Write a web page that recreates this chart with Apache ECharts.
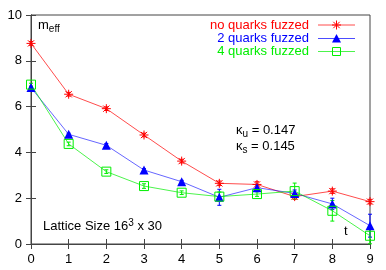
<!DOCTYPE html>
<html><head><meta charset="utf-8">
<script src="https://cdn.jsdelivr.net/npm/echarts@6/dist/echarts.min.js"></script>
<style>html,body{margin:0;padding:0;background:#fff}#c{width:386px;height:270px}</style>
</head><body><div id="c"></div>
<script>
var tValues = [0,1,2,3,4,5,6,7,8,9];
var seriesNames = ['no quarks fuzzed','2 quarks fuzzed','4 quarks fuzzed'];
var noFuzz = [8.76,6.54,5.91,4.76,3.62,2.65,2.60,2.07,2.31,1.85];
var noFuzzErr = [0.08,0.08,0.08,0.08,0.08,0.1,0.12,0.12,0.1,0.1];
var twoFuzz = [6.83,4.79,4.31,3.23,2.72,2.04,2.46,2.21,1.75,0.80];
var twoFuzzErr = [0.05,0.05,0.08,0.06,0.06,0.35,0.12,0.15,0.25,0.5];
var fourFuzz = [6.96,4.37,3.16,2.53,2.24,2.07,2.18,2.31,1.45,0.36];
var fourFuzzErr = [0.06,0.08,0.08,0.1,0.08,0.2,0.1,0.35,0.45,0.35];
var yTicks = [0,2,4,6,8,10];

var colors = ['#ff0000','#0000ff','#00ee00'];
var FONT = 'Liberation Sans, Arial, sans-serif';
var starPath = 'M0,5L10,5M5,0L5,10M1.5,1.5L8.5,8.5M8.5,1.5L1.5,8.5';

function errSeries(vals, errs, color){
  return {
    type:'custom', silent:true, z:1,
    data: tValues.map(function(t,i){return [t, vals[i]-errs[i], vals[i]+errs[i]];}),
    renderItem: function(params, api){
      var lo = api.coord([api.value(0), api.value(1)]);
      var hi = api.coord([api.value(0), api.value(2)]);
      var w = 2;
      return {type:'group', children:[
        {type:'line', shape:{x1:lo[0],y1:lo[1],x2:hi[0],y2:hi[1]}, style:{stroke:color,lineWidth:1}},
        {type:'line', shape:{x1:lo[0]-w,y1:lo[1],x2:lo[0]+w,y2:lo[1]}, style:{stroke:color,lineWidth:1}},
        {type:'line', shape:{x1:hi[0]-w,y1:hi[1],x2:hi[0]+w,y2:hi[1]}, style:{stroke:color,lineWidth:1}}
      ]};
    }
  };
}

// legend (drawn as graphic)
var legendRows = [25, 38.5, 51.5];
var legendGraphic = [];
seriesNames.forEach(function(name, i){
  var y = legendRows[i];
  legendGraphic.push({type:'text', x:309, y:y, style:{text:name, fill:colors[i], fontSize:13, fontFamily:FONT, align:'right', verticalAlign:'middle'}});
  legendGraphic.push({type:'line', shape:{x1:318,y1:y,x2:355,y2:y}, style:{stroke:colors[i], lineWidth:1, opacity:0.7}});
});
(function(){
  var cx = 336.5, cy = legendRows[0], r = 4.5, d = 3.2;
  [[cx-r,cy,cx+r,cy],[cx,cy-r,cx,cy+r],[cx-d,cy-d,cx+d,cy+d],[cx+d,cy-d,cx-d,cy+d]].forEach(function(s){
    legendGraphic.push({type:'line', shape:{x1:s[0],y1:s[1],x2:s[2],y2:s[3]}, style:{stroke:colors[0], lineWidth:1}});
  });
})();
legendGraphic.push({type:'polygon', shape:{points:[[336.5,legendRows[1]-4.5],[332,legendRows[1]+4],[341,legendRows[1]+4]]}, style:{fill:colors[1]}});
legendGraphic.push({type:'rect', shape:{x:332.5,y:legendRows[2]-4,width:8,height:8}, style:{stroke:colors[2], fill:null, lineWidth:1}});

var chart = echarts.init(document.getElementById('c'), null, {renderer:'canvas'});
var axisCommon = {
  axisLine:{show:true,lineStyle:{color:'#444',width:1}},
  axisTick:{show:true,inside:true,length:5,lineStyle:{color:'#444'}},
  splitLine:{show:false}
};
chart.setOption({
  animation:false,
  backgroundColor:'#fff',
  grid:{left:31,right:16,top:15,bottom:26,show:true,borderColor:'#444',borderWidth:1},
  xAxis:[
    Object.assign({type:'value',min:0,max:9,interval:1,
      axisLabel:{color:'#000',fontSize:13,fontFamily:FONT,margin:9}}, axisCommon),
    Object.assign({type:'value',min:0,max:9,interval:1,position:'top',axisLabel:{show:false}}, axisCommon)
  ],
  yAxis:[
    Object.assign({type:'value',min:0,max:10,interval:2,
      axisLabel:{color:'#000',fontSize:13,fontFamily:FONT,margin:9,
        formatter:function(v){return yTicks.indexOf(v)>=0?String(v):'';}}}, axisCommon),
    Object.assign({type:'value',min:0,max:10,interval:2,position:'right',axisLabel:{show:false}}, axisCommon)
  ],
  series:[
    errSeries(noFuzz,noFuzzErr,colors[0]),
    errSeries(twoFuzz,twoFuzzErr,colors[1]),
    errSeries(fourFuzz,fourFuzzErr,colors[2]),
    {name:seriesNames[0],type:'line',z:3,data:tValues.map(function(t,i){return [t,noFuzz[i]];}),
      symbol:'path://'+starPath,symbolSize:9,
      lineStyle:{color:colors[0],width:1,opacity:0.7},
      itemStyle:{color:'rgba(0,0,0,0)',borderColor:colors[0],borderWidth:1}},
    {name:seriesNames[1],type:'line',z:3,data:tValues.map(function(t,i){return [t,twoFuzz[i]];}),
      symbol:'triangle',symbolSize:9,
      lineStyle:{color:colors[1],width:1,opacity:0.6},
      itemStyle:{color:colors[1]}},
    {name:seriesNames[2],type:'line',z:3,data:tValues.map(function(t,i){return [t,fourFuzz[i]];}),
      symbol:'rect',symbolSize:9,
      lineStyle:{color:colors[2],width:1,opacity:0.7},
      itemStyle:{color:'rgba(0,0,0,0)',borderColor:colors[2],borderWidth:1}}
  ],
  graphic:legendGraphic.concat([
    {type:'text',left:38,top:19,style:{
      text:'{m|m}{s|eff}',rich:{m:{fontSize:13,fontFamily:FONT,fill:'#000'},s:{fontSize:10,fontFamily:FONT,fill:'#000',padding:[8,0,0,0]}}}},
    {type:'text',left:236,top:124,style:{
      text:'{m|κ}{s|u}{m| = 0.147}',rich:{m:{fontSize:13,fontFamily:FONT,fill:'#000'},s:{fontSize:10,fontFamily:FONT,fill:'#000',padding:[8,0,0,0]}}}},
    {type:'text',left:236,top:140,style:{
      text:'{m|κ}{s|s}{m| = 0.145}',rich:{m:{fontSize:13,fontFamily:FONT,fill:'#000'},s:{fontSize:10,fontFamily:FONT,fill:'#000',padding:[8,0,0,0]}}}},
    {type:'text',left:43,top:218,style:{
      text:'{m|Lattice Size 16}{p|3}{m| x 30}',rich:{m:{fontSize:13,fontFamily:FONT,fill:'#000'},p:{fontSize:10,fontFamily:FONT,fill:'#000',padding:[0,0,7,0]}}}},
    {type:'text',left:344,top:225,style:{text:'t',fontSize:13,fontFamily:FONT,fill:'#000'}}
  ])
});
</script></body></html>
